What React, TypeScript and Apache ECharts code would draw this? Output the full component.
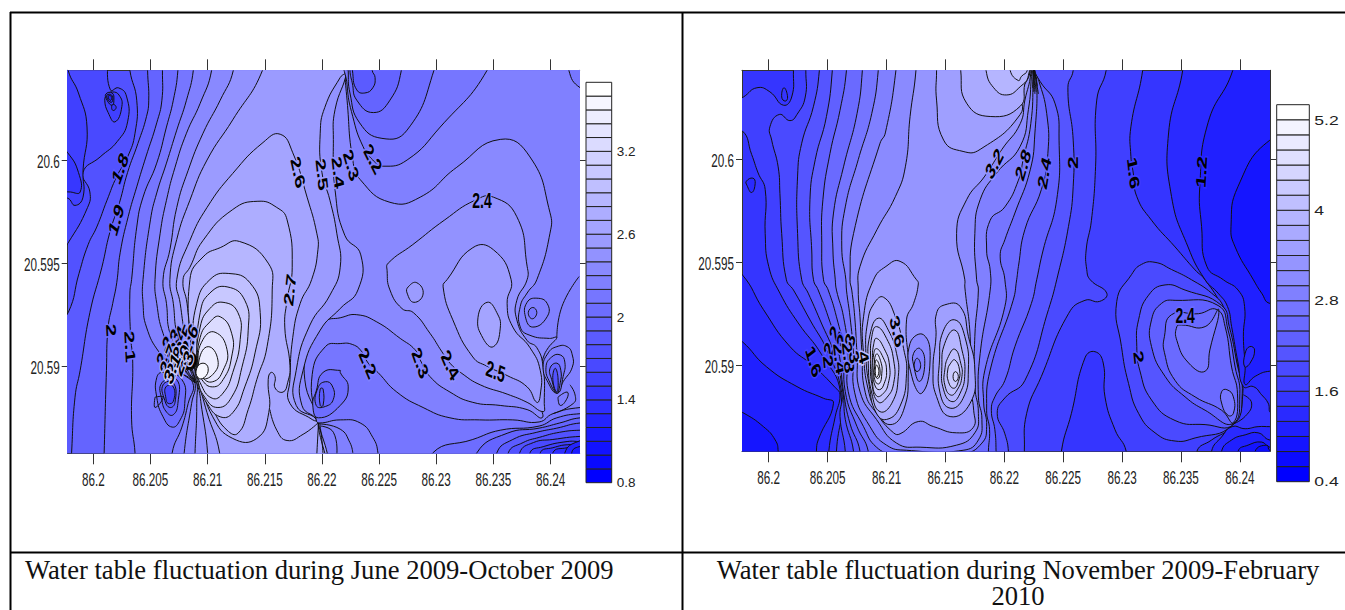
import React, { useEffect, useRef } from "react";
import * as echarts from "echarts";

// Contours traced from the maps. Each entry: [band value of the enclosed area (null = line only, -1 = solid black),
// flat list of offsets from 86.2 E / 20.59 N in thousandths of a degree].
type Contour = [number | null, number[]];
const lonTicks = [86.2, 86.205, 86.21, 86.215, 86.22, 86.225, 86.23, 86.235, 86.24];
const latTicks = [20.59, 20.595, 20.6];
const leftBarLevels = [0.8, 0.9, 1, 1.1, 1.2, 1.3, 1.4, 1.5, 1.6, 1.7, 1.8, 1.9, 2, 2.1, 2.2, 2.3, 2.4, 2.5, 2.6, 2.7, 2.8, 2.9, 3, 3.1, 3.2, 3.3, 3.4, 3.5, 3.6];
const rightBarLevels = [0.4, 0.6, 0.8, 1, 1.2, 1.4, 1.6, 1.8, 2, 2.2, 2.4, 2.6, 2.8, 3, 3.2, 3.4, 3.6, 3.8, 4, 4.2, 4.4, 4.6, 4.8, 5, 5.2];
const leftBarTicks = [0.8, 1.4, 2, 2.6, 3.2];
const rightBarTicks = [0.4, 1.6, 2.8, 4, 5.2];
const captionLeft = "Water table fluctuation during June 2009-October 2009";
const captionRight1 = "Water table fluctuation during November 2009-February";
const captionRight2 = "2010";

const leftContours: Contour[] = [
  [1.8, [3.1,15.5, 3.2,14.35, 3.8,12.9, 3.65,11.3, 3,10.15, 2.05,9.2, 1.2,8.05, .3,6.75, -.45,5.9, -1.25,4.5, -2.2,2.6, -3.5,1.8, -3.5,-5.5, 45,-5.5, 45,15.5]],
  [1.9, [4.75,15.5, 4.75,14.35, 4.85,12.9, 4.65,12.1, 3.9,10.8, 3,9.4, 2.3,7.95, 1.45,6.5, .75,4.8, -.3,2.6, -1.15,-.2, -1.6,-1.5, -1.9,-4.2, -2,-5.5, 45,-5.5, 45,15.5]],
  [2, [6.05,15.5, 6.05,14.35, 6,12.9, 5.55,11.8, 4.6,10.15, 3.8,8.7, 3.05,7.25, 2.35,5.5, 2.05,4.05, 1.7,3.05, 1.3,1.9, 1.15,-.2, .95,-4.2, .9,-5.5, 45,-5.5, 45,15.5]],
  [2.1, [7.4,15.5, 7.4,14.35, 7,12.9, 6.4,11.6, 5.55,9.85, 4.35,8.2, 3.8,6.75, 3.35,4.2, 3.2,3.55, 3.25,1.6, 3.45,.15, 3.35,-2.6, 3.65,-4.2, 3.7,-5.5, 45,-5.5, 45,15.5]],
  [2.2, [8.75,15.5, 8.75,14.35, 8.15,12.9, 7.3,11.45, 6.4,9.85, 5.55,8.4, 5,7.1, 4.35,4.2, 4.35,3.05, 4.65,1.9, 5.8,.65, 7.3,-.2, 8.7,-.8, 8.3,-1.8, 7.75,-2.95, 6.9,-4.2, 6.9,-5.5, 45,-5.5, 45,15.5]],
  [2.3, [10.3,15.5, 10.35,14.35, 9.35,12.75, 8.15,11.3, 7.15,9.65, 6.4,8.05, 5.85,6.45, 5.4,4.2, 5.55,3.05, 6.1,1.6, 7,.65, 8.2,-.3, 8.9,-.8, 8.6,-1.8, 7.95,-4.2, 7.9,-5.5, 19.7,-5.5, 19.65,-2.75, 18.5,-.65, 18.95,1.05, 20.25,2.15, 21.6,2.35, 23.05,2.5, 24.8,2.15, 26.85,1.35, 28.15,.8, 28.6,.3, 29.45,-.5, 31.2,-1.25, 33.2,-1.75, 35.6,-1.9, 37.95,-2.1, 39.25,-2.5, 39.1,-1.8, 39.1,-.2, 39.35,.4, 39.8,.9, 40.55,1.4, 39.9,1.35, 38.2,1.5, 37.35,1.9, 37.35,2.9, 37.95,3.55, 38.8,4.2, 39.95,6.45, 39.95,7.45, 38.2,10.15, 35.6,11, 31.8,9.65, 28.6,8.2, 25.95,7.95, 23.35,9.05, 22.7,10, 22.2,12.9, 22,14.35, 22,15.5]],
  [2.4, [12.25,15.5, 12.25,14.35, 11.1,12.9, 9.6,11.3, 8.3,9.5, 7.3,7.7, 6.7,5.65, 6.1,4.2, 6.4,3.05, 6.7,1.6, 7.6,.65, 8.9,-.5, 9.05,-1.8, 8.9,-4.2, 8.85,-5.5, 19.7,-5.5, 19.65,-2.75, 18.25,-1.9, 18.35,-.2, 19.85,1.75, 21.6,2.8, 23.15,3.7, 23.4,5.4, 22,6.35, 21.15,8.55, 21,11, 21.15,12.45, 22.2,14.35, 22.2,15.5]],
  [2.4, [33.4,8.05, 30.75,7.1, 27.95,5.9, 25.8,5, 25.7,4.65, 25.95,3.7, 27,2.8, 28,2.6, 29.45,1.6, 30.5,.7, 31.2,.15, 32.25,-.35, 33.85,-.9, 36.2,-1.35, 37.95,-1.75, 39.35,-2.2, 39.45,-1.8, 39.35,-.05, 38.8,.9, 37.95,1.25, 37.05,2.25, 37.05,3.2, 37.95,4.2, 37.95,4.85, 37.05,7.25, 35,8.2]],
  [2.5, [14.8,15.5, 14.8,14.35, 12.2,11.95, 9.95,10, 8.45,8.05, 7.3,6.15, 6.7,4.2, 7,3.05, 7.3,1.6, 8,.45, 9.05,-.8, 9.5,-2.1, 10,-4.2, 10,-5.5, 19.7,-5.5, 19.65,-2.75, 17.75,-1.9, 17.75,-.2, 18.95,2, 20.7,3.45, 21.6,4.8, 21.3,6.45, 20.7,8.05, 20,9.4, 19.85,11.3, 20.25,12.55, 21.6,14, 22.2,14.35, 22,15.5]],
  [2.5, [30.95,4.2, 33.2,5.75, 35,5.65, 36.55,4.2, 36.2,3.05, 36.7,1.9, 38.2,.9, 39.1,-.2, 39.1,-1.4, 38.8,-1.75, 37.95,-1, 36.2,-.45, 34.45,0, 33.2,.45, 31.45,2.25, 30.6,3.85]],
  [2.6, [16.35,11.25, 14.85,10.85, 12.2,9.35, 9.95,7.7, 8.45,6.1, 7.3,4.2, 7.6,3.05, 8,1.6, 8.45,.65, 9.15,-.65, 9.95,-2.25, 11.05,-4.2, 11,-5.5, 19.7,-5.5, 19.65,-2.75, 19.2,-2.6, 17.2,-1.8, 17.2,-.65, 17.45,1.4, 18.1,3.05, 19.1,4.2, 19.65,5.65, 19.55,6.45, 18.7,8.2, 17.45,10.35]],
  [2.6, [34.45,3.1, 35.3,2.6, 35.6,1.85, 35,.95, 34.1,1.35, 33.65,2.35]],
  [2.5, [27.55,3.85, 28.3,4.05, 28.85,3.5, 28.05,3.1, 27.45,3.55]],
  [2.7, [14.4,8, 12.2,7.6, 9.6,6.1, 8.45,4.8, 7.85,4.2, 8.2,3.05, 8.45,1.6, 8.7,.45, 9.35,-.65, 10.45,-2.45, 12.2,-3.5, 14.3,-3.5, 15.35,-2.25, 15.3,-.65, 15.55,-.3, 15.9,-.5, 15.9,-1.05, 16.6,-1.25, 17,-.8, 17.2,.05, 16.75,1.9, 16.95,3.2, 17.4,4.8, 16.95,7.1, 16.05,7.7]],
  [null, [15.45,-2.1, 16.05,-3.1, 16.95,-3.6, 18.35,-3.3, 19.65,-2.75]],
  [2.8, [12.8,6.05, 15.3,5, 15.65,3.7, 15.2,.95, 14.3,-.65, 13.55,-2.1, 12.65,-3.25, 11.7,-3.1, 10.45,-2.1, 9.5,-1, 9.05,-.2, 8.65,.65, 8.45,4.2, 9.6,5.3, 11.1,5.75]],
  [2.9, [11.8,4.5, 13.7,4.05, 14.6,2.6, 14.15,.65, 13.25,-1, 12.2,-2.25, 11.1,-2.45, 9.95,-1.8, 9.15,-.8, 8.9,-.05, 8.7,.95, 9.05,3.05, 10.2,4.2]],
  [3, [11.7,3.85, 13.25,3.2, 13.55,1.75, 13,-.05, 12.1,-1.5, 10.9,-2, 9.75,-1.5, 9.15,-.65, 9.05,.3, 9.35,2.6, 10.2,3.55]],
  [3.1, [11.35,3.1, 12.65,2.6, 12.85,1.3, 12.2,-.3, 11.35,-1.3, 10.4,-1.55, 9.35,-.8, 9.05,-.05, 9.35,1.9, 10.2,2.8]],
  [3.2, [11.1,2.4, 12.1,1.6, 12.1,.45, 11.35,-.65, 10.45,-1, 9.5,-.65, 9.15,-.05, 9.35,1.4, 10.2,2.15]],
  [3.3, [10.65,1.65, 11.7,.8, 11.35,-.2, 10.45,-.75, 9.5,-.5, 9.15,.15, 9.6,1.3]],
  [3.4, [10.05,.95, 10.9,.3, 10.45,-.4, 9.5,-.55, 9.25,.3]],
  [3.5, [9.6,.15, 10.05,-.1, 9.7,-.55, 9.15,-.55, 9.05,-.1]],
  [1.6, [.6,15.5, 1.5,13.4, 2.2,13.5, 2.9,13.1, 3,11.85, 2.1,10.9, .6,10.15, -.9,9.4, -.3,8.45, -.5,7.7, -2.24,5.95, -3.5,5, -3.5,15.5]],
  [1.5, [-2.4,15.5, -2.2,14.35, -1.3,13.25, -.55,11.6, -.9,9.5, -.9,8.2, -1.6,7.8, -2.24,8.15, -3.5,8.2, -3.5,15.5]],
  [1.4, [-3.5,11, -2.24,10.35, -1.3,9.4, -1.15,8.45, -2,8.45, -3.5,8.6]],
  [1.5, [1.2,13.15, 1.65,13.3, 2.25,13.15, 2.5,12.6, 1.9,11.85, 1.3,12.3, 1,12.9]],
  [1.4, [1.1,13.2, 1.65,13.25, 1.8,12.9, 1.65,12.65, 1.2,12.9]],
  [1.3, [1.2,13.15, 1.6,13.15, 1.7,12.9, 1.55,12.8, 1.25,12.95]],
  [1.2, [1.3,13.1, 1.55,13.1, 1.6,12.95, 1.45,12.9]],
  [1.4, [1.75,12.7, 2,12.55, 1.75,12.4, 1.6,12.55]],
  [2, [5.55,-.55, 6.1,-.3, 7.75,-.65, 8,-1.8, 7.6,-2.6, 6.9,-2.95, 6.1,-2.45, 5.55,-1.5]],
  [1.9, [6,-.8, 7.3,-.65, 7.4,-1.8, 7,-2.35, 6.45,-2.25, 6,-1.65]],
  [1.8, [6.1,-.9, 7,-.8, 7.15,-1.75, 6.7,-2, 6.25,-1.65]],
  [1.6, [6.35,-1, 7,-1, 7,-1.7, 6.55,-1.8, 6.35,-1.55]],
  [null, [5.4,-1.5, 6.1,-1.5, 5.4,-2, 5.4,-1.5]],
  [-1, [6.7,.45, 8.7,.65, 8.9,-.03, 7.6,-.18, 6.9,-.18]],
  [null, [8.9,-.8, 7.5,.1]], [null, [8.9,-.8, 7.9,.1]], [null, [8.9,-.8, 8.3,.1]], [null, [8.9,-.8, 8.6,.1]], [null, [8.9,-.8, 7.1,-.1]], [null, [8.9,-.8, 8.9,.1]],
  [2.1, [39,-2.7, 36.7,-2.6, 33.8,-2.6, 31.2,-2.5, 28.85,-2, 26.55,-1.25, 24.9,-.3, 24.05,.15, 23.5,.7, 22.7,1.05, 21.6,1.1, 20.3,.95, 19.15,-.4, 19.5,-2.6, 19.75,-2.75, 21.6,-2.6, 23.35,-2.75, 24.45,-3.45, 24.9,-4.2, 25,-5.5, 45,-5.5, 45,-2, 42.6,-2, 40.2,-2.3]],
  [2, [21.6,-.2, 20.1,-.3, 19.5,-1.2, 19.2,-1.9, 19.7,-2.5, 21.6,-1.9, 22.3,-1, 21.6,-.3]],
  [1.9, [19.5,-1.9, 19.65,-1.05, 20.3,-.75, 20.9,-.95, 21,-1.6, 20.3,-1.95]],
  [1.8, [19.85,-1.1, 20.1,-1.1, 20.1,-1.9, 19.85,-1.9]],
  [null, [19.7,-2.75, 19.55,-4.3]], [null, [19.8,-2.75, 20,-3.6, 20.1,-4.3]], [null, [19.9,-2.9, 21,-3.2, 21.3,-4.3]], [null, [19.8,-2.8, 21.6,-3.05, 22.45,-3.7, 22.7,-4.2]],
  [2, [29.7,-5.5, 29.7,-4.2, 33.2,-3.55, 35.6,-3.1, 39,-2.9, 40.55,-2.5, 42.6,-2.3, 45,-2.3, 45,-5.5]],
  [1.9, [33.55,-5.5, 33.55,-4.2, 36.2,-3.25, 39,-3, 40.8,-2.75, 42.6,-2.5, 45,-2.5, 45,-5.5]],
  [1.8, [35.3,-5.5, 35.3,-4.2, 36.7,-3.55, 38.8,-3.2, 40.55,-3, 42.6,-2.75, 45,-2.75, 45,-5.5]],
  [1.7, [36.3,-5.5, 36.3,-4.2, 37.6,-3.7, 39,-3.45, 40.8,-3.2, 42.6,-3.1, 45,-3.1, 45,-5.5]],
  [1.6, [37.3,-5.5, 37.3,-4.2, 38.5,-3.7, 40.2,-3.55, 42.6,-3.4, 45,-3.4, 45,-5.5]],
  [1.5, [38.2,-5.5, 38.2,-4.2, 39.35,-3.9, 41.45,-3.65, 42.6,-3.65, 45,-3.65, 45,-5.5]],
  [1.4, [39.1,-5.5, 39.1,-4.2, 40.2,-3.95, 41.7,-3.8, 42.6,-3.9, 45,-3.9, 45,-5.5]],
  [1.3, [40.2,-5.5, 40.2,-4.2, 41.45,-3.95, 42.15,-3.95, 42.6,-3.9, 45,-3.9, 45,-5.5]],
  [1.2, [41.25,-5.5, 41.25,-4.2, 42.4,-3.65, 45,-3.4, 45,-5.5]],
  [1.1, [41.85,-5.5, 41.85,-4.2, 42.5,-3.9, 45,-3.7, 45,-5.5]],
  [2.1, [34.45,15.5, 34.45,14.35, 30.35,11.6, 27.45,10, 25.35,9.7, 24.45,10, 23.6,10.65, 22.7,12.1, 22.2,13.65, 22.2,15.5]],
  [2, [29.8,15.5, 29.8,14.35, 27.45,11.45, 25.25,11.05, 23.3,11.8, 22.45,13.25, 22.3,14.35, 22.3,15.5]],
  [1.9, [26.95,15.5, 26.95,14.35, 25.95,12.9, 24.5,12.3, 23.05,12.9, 22.65,13.75, 22.45,14.35, 22.45,15.5]],
  [1.8, [24.4,15.5, 24.4,14.35, 24.65,14, 24.45,13.5, 23.75,13.25, 23.05,13.4, 22.7,14.2, 22.7,15.5]],
  [2.1, [41.6,15.5, 41.6,14.35, 42.6,13.5, 45,13, 45,15.5]],
  [null, [42.5,4.35, 41,2.9, 40.55,1.4]],
  [2.2, [37.95,3.1, 38.8,3.3, 39.7,3.05, 39.7,2.4, 38.45,1.9, 37.8,2.4]],
  [2.1, [38.45,2.85, 38.8,2.6, 38.4,2.3, 38.05,2.6]],
  [2.2, [41.45,.95, 41.9,.55, 41.9,-.05, 41.1,-.75, 40.55,-1.3, 39.8,-.8, 39.35,-.05, 39.8,.65, 40.55,.95]],
  [2.1, [40.85,.55, 41.25,.2, 41.1,-.5, 40.65,-1.3, 39.95,-.8, 39.6,-.05, 40.1,.45]],
  [1.9, [40.55,.15, 40.9,-.2, 40.85,-.8, 40.55,-1.3, 40.1,-.65, 39.95,-.1]],
  [1.7, [40.4,-.1, 40.65,-.55, 40.55,-1.25, 40.2,-.65]],
  [null, [40.65,-1.5, 41.45,-1.25, 41.45,-1.55, 40.85,-1.9, 40.65,-1.5]],
  [null, [41.7,-.9, 42.15,-1.4, 42,-1.8, 40.2,-2.3]],
];

const leftLabels: [number, number, string, number][] = [
  [2.35,9.6,"1.8",60], [2,7.1,"1.9",65], [1.55,1.75,"2",-85], [3.2,.95,"2.1",-85], [17.9,9.4,"2.6",-70], [20,9.3,"2.5",-80],
  [21.4,9.4,"2.4",-80], [22.55,9.75,"2.3",-65], [24.45,10.05,"2.2",-50], [34,8.05,"2.4",0], [17.2,3.7,"2.7",80],
  [24,.15,"2.2",-55], [28.6,.15,"2.3",-60], [31.2,.05,"2.4",-55], [35.2,-.25,"2.5",-15],
  [6.25,.7,"2.2",60], [6.9,1.05,"2.3",60], [7.4,1.2,"2.4",60], [7.95,1.25,"2.5",60], [8.45,1.3,"2.6",60],
  [6.55,.3,"2.7",60], [7.15,.2,"2.8",60], [7.75,.3,"2.9",60], [8.3,.4,"3",60], [6.9,-.1,"3.1",60],
];

const rightContours: Contour[] = [
  [1.6, [2.1,15.5, 2.1,14.35, 1.95,13.05, 1.25,12.65, .1,13.3, -1,13.5, -2.15,13.05, -3.5,12.6, -3.5,11.3, -2.25,11.4, -1.45,10.25, -.9,9.35, -.3,8.55, -.3,6.4, 0,4.8, .95,3.5, 2.5,2.05, 4.5,.5, 6.1,-1.35, 5.75,-4.2, 5.7,-5.5, 36.35,-5.5, 36.35,-4.2, 37.6,-3.65, 39.3,-2.95, 40.2,-1.45, 39.6,.1, 38.9,1.87, 38.45,2.85, 37.05,4.15, 36.2,4.63, 34.5,5.75, 32.5,7.05, 31.25,8.2, 30.95,9.35, 30.75,10.15, 30.75,11.6, 31.75,14.35, 31.75,15.5]],
  [1.8, [3.15,15.5, 3.15,14.35, 3.1,13.05, 2.4,12.2, 1.8,11.9, .9,12.2, .1,11.6, .25,10.95, .8,9.65, .95,8.35, 1.1,6.4, 1.5,4.15, 2.1,3.65, 3.5,2.2, 5.05,.6, 6.2,-1.35, 6.05,-2.5, 6.5,-4.2, 6.5,-5.5, 21.7,-5.5, 21.7,-4.2, 21.9,-2.35, 23.15,-.55, 25.45,2.5, 26.85,3.15, 28.1,3.1, 28.7,3.5, 27.3,4.15, 27,4.65, 26.95,5.6, 27.4,7.05, 27.75,9.65, 27.85,12.9, 28.65,14.35, 28.65,15.5]],
  [1.8, [30.8,4.4, 29.55,3.1, 29.95,.9, 30.55,-.9, 31.4,-2.35, 32.8,-3.3, 34.5,-3.7, 36.2,-3.55, 39.3,-2.95, 40.25,-1.4, 39.75,.1, 38.95,1.87, 38.6,2.85, 37.6,3.5, 35.9,4.15, 34.2,4.65, 32.8,5, 31.65,4.9]],
  [2, [4.3,15.5, 4.3,14.35, 3.8,12.6, 2.8,10.8, 2.45,9.2, 2.45,6.4, 2.8,4.15, 3.35,3.5, 4.35,2.2, 5.65,.4, 6.3,-1.35, 6.5,-2.65, 7.2,-4.2, 7.2,-5.5, 20.35,-5.5, 20.35,-4.2, 20.05,-3.35, 19.4,-2.35, 20.05,-1.6, 21.75,-.75, 23.75,2.7, 24.45,4.15, 25.45,6.75, 25.85,8.7, 25.85,10.95, 25.4,13.5, 25.85,14.35, 25.85,15.5]],
  [2, [31.25,.9, 31.4,2.2, 32.25,3.4, 33.65,3.9, 35.35,3.65, 38.45,2.9, 39.1,1.87, 39.75,.1, 40.2,-1.4, 39.45,-2.9, 37.05,-2.9, 34.5,-2.7, 32.5,-1.7, 31.5,-.25]],
  [2.2, [5.4,15.5, 5.4,14.35, 4.9,12.1, 3.95,10, 3.5,8.05, 3.65,5.6, 3.8,4.15, 4.2,3.65, 5.05,2.35, 5.9,.75, 6.35,-1.3, 6.9,-2.85, 7.75,-4.2, 7.75,-5.5, 19.3,-5.5, 19.3,-4.2, 19.2,-3.15, 18.9,-2.2, 19.2,-1.55, 20.05,-.75, 20.9,.9, 22.3,3, 22.75,4.15, 23.3,5.6, 24.45,8.05, 24.65,10.95, 24.3,12.75, 23.05,13.8, 22.6,14.35, 22.6,15.5]],
  [2.2, [32.5,2.2, 33.35,3, 34.5,3.15, 38.15,2.9, 39,1.7, 39.6,-.1, 40,-1.4, 39.4,-2.85, 37.05,-2.2, 35.35,-1.55, 33.65,-.55, 32.5,.9]],
  [2.4, [6.6,15.5, 6.6,14.35, 6.05,12.4, 5.2,10.3, 4.6,8.05, 4.5,5.95, 4.65,4.15, 5.05,3.65, 5.75,2.35, 6.35,.75, 6.5,-1.3, 7.5,-3, 8.45,-4.2, 8.45,-5.5, 18.65,-5.5, 18.65,-4.2, 18.75,-3.15, 18.5,-2.2, 18.8,-.25, 20.75,3.15, 21.05,4.15, 21.2,4.8, 21.75,6.6, 23.15,8.55, 23.7,10.3, 23.6,12.25, 22.9,13.9, 22.55,14.35, 22.55,15.5]],
  [2.4, [33.6,1.4, 34.2,2.45, 36.5,2.5, 38.05,2.7, 38.75,1.87, 39.3,-.1, 39.8,-1.4, 39.45,-2.8, 38.45,-2.2, 36.2,-1.55, 34.5,-.75, 33.6,.6]],
  [2.6, [34.65,1.87, 34.65,1.2, 35.65,.1, 37.05,-.3, 37.45,.73, 38.2,2.7, 37.05,1.87, 35.05,1.95]],
  [2.6, [38.45,-1.3, 38.9,-1.2, 39.45,-1.55, 39.45,-2.35, 39,-2.45, 38.45,-1.85]],
  [2.6, [7.95,15.5, 7.95,14.35, 7.5,12.25, 6.35,9.65, 5.5,7.4, 5.45,5.6, 5.65,4.15, 5.75,3.65, 6.35,2.35, 6.75,.55, 6.75,-1.3, 8.05,-3, 9.15,-4, 10.6,-4.3, 16.5,-4.3, 18.1,-3.8, 18.5,-3, 18.25,-1.85, 18.35,-.25, 20.05,2.85, 20.05,4.15, 19.65,5.3, 20.05,6.1, 20.9,7.4, 22.2,9.5, 22.6,11.3, 22.75,13.9, 22.45,14.35, 22.45,15.5]],
  [2.8, [9.3,15.5, 9.3,14.35, 8.75,12.25, 7.6,10, 6.5,7.7, 6.2,5.75, 6.55,4.15, 6.6,3.65, 6.9,2.35, 7.2,.55, 7.3,-1.35, 8.6,-3, 10,-3.9, 11.7,-4.15, 16.5,-4.15, 17.8,-3.65, 18.1,-2.65, 17.8,-1.55, 17.95,.55, 18.8,3.65, 18.8,4.63, 18.5,5.6, 18.8,7.05, 20.05,7.7, 21.2,9, 21.6,10, 22.25,11.75, 22.45,13.9, 22.4,14.35, 22.4,15.5]],
  [3, [10.8,15.5, 10.8,14.35, 9.9,11.3, 9.45,10.8, 7.2,6.4, 6.9,4.15, 7.05,3.65, 7.3,2.35, 7.5,.55, 7.75,-1.3, 9.15,-2.65, 10.85,-3.8, 12.85,-4, 15.95,-3.9, 17.5,-3.3, 17.8,-2.35, 17.5,-1.05, 17.5,1.4, 17.8,3.65, 17.65,4.15, 17.5,6.4, 17.95,8.05, 19.35,9.35, 21.35,10.65, 22.05,12.45, 22.3,14.05, 22.3,14.35, 22.3,15.5]],
  [3.2, [12.5,15.5, 12.5,14.35, 12,12.1, 11.6,9.65, 10.75,8.2, 9.2,6.6, 7.75,4.8, 7.6,3.65, 7.75,2.35, 7.9,.75, 8.2,-1.35, 9.15,-2.35, 10.6,-3.3, 11.15,-3.35, 12.7,-2.75, 14,-3, 15.95,-3.3, 17.35,-3.05, 17.4,-2.2, 17.1,-.9, 17.1,1.4, 16.65,3.8, 16.65,4.15, 15.95,6.4, 16.8,8.05, 18.35,9.2, 19.8,10.5, 21.35,11.75, 21.75,12.9, 22.25,14.2, 22.25,15.5]],
  [3.4, [14.25,15.5, 14.25,14.35, 14.25,12.9, 14.85,10.95, 16.5,10.4, 17.95,10.5, 21.35,12.2, 21.45,13.25, 22.2,14.3, 22.2,15.5]],
  [3.6, [16.3,15.5, 16.3,14.35, 16.8,12.75, 18.8,12.1, 21.35,12.6, 21.75,13.7, 22.1,14.3, 22.1,15.5]],
  [3.8, [18.45,15.5, 18.45,14.35, 19.1,13.5, 20.2,13.15, 21.35,13.55, 22.05,14.1, 22.05,15.5]],
  [4, [20.5,15.5, 20.5,14.35, 21.2,13.85, 21.45,14.05, 21.95,14.35, 21.95,15.5]],
  [null, [22.5,14.5, 22.7,13.3]], [null, [22.5,14.5, 22.6,13.2]], [null, [22.5,14.5, 22.5,13.3]], [null, [22.5,14.5, 22.4,13.5]], [null, [22.5,14.5, 22.8,13.6]], [null, [22.5,14.5, 22.9,13.2]],
  [3.4, [11.15,5.05, 12.55,4.15, 12.7,3.95, 12.3,3, 11.7,2.2, 11.85,-.25, 11.45,-2.2, 10.3,-2.9, 9.15,-2.2, 8.45,-1.2, 8.05,.55, 8.05,2.35, 8.9,4.15, 9.95,4.8]],
  [3.6, [9.75,3.3, 10.75,2.35, 11.45,.8, 11.7,-.4, 11.15,-2, 10,-2.65, 9.1,-2.3, 8.55,-1.05, 8.25,.55, 8.4,2.1, 8.95,3]],
  [3.8, [9.3,2.28, 10.15,1.7, 10.85,.57, 11,-.56, 10.45,-1.86, 9.45,-2.27, 8.75,-1.37, 8.45,.09, 8.6,1.47]],
  [4, [9.15,1.87, 10,1.3, 10.6,.25, 10.6,-.9, 10,-1.6, 9.3,-1.8, 8.75,-.9, 8.65,.25, 8.75,1.38]],
  [4.2, [9.15,1.3, 9.8,.8, 10.25,0, 10.15,-.9, 9.7,-1.4, 9.15,-1.5, 8.8,-.8, 8.8,.25, 8.9,.98]],
  [4.4, [9.15,.8, 9.7,.38, 10,-.24, 9.8,-.9, 9.4,-1.2, 9,-.97, 8.85,-.24, 8.9,.49]],
  [4.6, [9.15,.54, 9.55,.09, 9.6,-.4, 9.4,-.9, 9.05,-.8, 8.95,-.16]],
  [4.8, [9.15,.25, 9.45,-.24, 9.3,-.65, 9,-.48, 9,-.08]],
  [5, [9.15,0, 9.35,-.32, 9.15,-.6, 9.05,-.32]],
  [3, [12,1.06, 13.15,1.47, 13.7,.25, 13,-1.37, 12.15,-.56]],
  [2.8, [12.3,.57, 12.85,.8, 13.25,.09, 12.8,-.8, 12.3,0]],
  [2.6, [12.6,.33, 12.9,-.04, 12.6,-.32, 12.35,-.04]],
  [3.4, [14.25,2.52, 14.95,2.93, 16.25,2.85, 16.95,1.4, 17.5,-.24, 17.1,-1.86, 15.4,-2.51, 14.25,-1.54, 13.95,-.24, 14.2,1.38]],
  [3.6, [14.8,1.63, 15.8,2.2, 16.65,1.38, 16.95,-.24, 16.5,-1.62, 15.4,-2.1, 14.55,-1.37, 14.5,.25]],
  [3.8, [15.8,1.7, 16.4,.74, 16.65,-.4, 16.25,-1.37, 15.55,-1.78, 14.85,-1.21, 14.7,-.08, 14.95,1.06]],
  [4, [15.8,.77, 16.3,.09, 16.4,-.56, 16,-1.21, 15.45,-1.46, 14.95,-.97, 14.95,-.24, 15.25,.41]],
  [4.2, [15.8,.25, 16.2,-.24, 16.1,-.8, 15.7,-1.13, 15.25,-.8, 15.2,-.24, 15.45,.09]],
  [4.4, [15.85,-.32, 16.1,-.56, 15.85,-.8, 15.65,-.56]],
  [1.2, [-3.5,4.8, -2.25,4.4, -.45,2.7, 1.8,.9, 3.8,-.05, 5.65,-1.1, 6.05,-1.45, 5.65,-2.5, 5.1,-4.2, 5.1,-5.5, -3.5,-5.5]],
  [1, [-3.5,1.6, -2.25,1.14, -.2,-.08, 2.4,-1.05, 4.65,-1.62, 5.5,-1.86, 4.2,-3.65, 4.05,-4.2, 4,-5.5, -3.5,-5.5]],
  [.8, [-3.5,-2, -2.25,-2.3, -.45,-3, .55,-3.65, .8,-4.2, .8,-5.5, -3.5,-5.5]],
  [1.4, [1.1,13.05, 1.3,13.5, 1.6,13.05, 1.4,12.85]],
  [1.2, [-1.9,8.95, -1.35,9.1, -1.15,8.85, -1.45,8.4, -1.85,8.75]],
  [1.2, [35.15,15.5, 35.15,14.35, 33.95,11.3, 34.2,8.2, 35.6,5.75, 37.05,4.15, 38.15,3.5, 38.95,2.85, 39.3,1.87, 39.85,.1, 40.3,-1.05, 41.15,-1.05, 41.85,-1.45, 42.4,-1.85, 42.7,-2.35, 45,-2.5, 45,15.5]],
  [1, [39.4,15.5, 39.4,14.35, 37.3,11.8, 36.6,8.7, 36.75,6.75, 37.2,4.8, 38.6,4.15, 39.85,3.65, 40.4,2.85, 40.3,1.4, 40.45,-.1, 40.45,-.95, 41.3,-.55, 42.55,-.3, 45,-.3, 45,15.5]],
  [.8, [42.55,10.95, 39.85,8.7, 39.25,6.75, 39.6,5.75, 41.15,4.15, 41.85,3.5, 42.55,3, 45,3, 45,11]],
  [1.2, [40.45,.57, 40.85,.9, 41.25,.73, 40.85,.08, 40.4,-.08]],
  [1.4, [24.85,-4.2, 25.7,-2.35, 26.85,.35, 27.7,.65, 28.4,.1, 28.55,-1.55, 29.4,-3.15, 30.35,-4.2, 30.35,-5.5, 24.85,-5.5]],
  [1.2, [37.6,-4.2, 38.45,-3.5, 39.35,-3, 40.45,-3.1, 41.55,-3, 42.55,-3, 45,-3, 45,-5.5, 37.6,-5.5]],
  [1, [38.45,-4.2, 39.3,-3.65, 40.45,-3.4, 41.55,-3.3, 42.55,-3.65, 45,-3.7, 45,-5.5, 38.45,-5.5]],
  [.8, [39.85,-4.2, 40.7,-3.9, 41.85,-3.75, 42.55,-4, 45,-4, 45,-5.5, 39.85,-5.5]],
  [.6, [41.3,-4.2, 42.3,-3.9, 42.55,-4.15, 45,-4.15, 45,-5.5, 41.3,-5.5]],
  [null, [39.3,-2.9, 40.45,-2.5, 41,-1.85, 40.3,-1.45]],
];

const rightLabels: [number, number, string, number][] = [
  [3.8,.17,"1.6",-65], [5.35,1.14,"2.2",60], [6.2,1.14,"2",60], [6.9,1.2,"3",70], [5.05,.17,"2",-80], [6,.33,"2.4",-80], [6.75,.38,"2.8",-80],
  [7.25,.38,"3",-80], [8.05,.38,"4",-75], [10.9,1.63,"3.6",-70], [19.15,9.8,"3.2",50], [21.6,9.75,"2.8",65], [23.4,9.35,"2.4",75],
  [25.85,9.85,"2",90], [30.95,9.35,"1.6",-80], [36.75,9.4,"1.2",85], [35.35,2.44,"2.4",0], [31.4,.38,"2",-80],
];

const leftBand = (v: number) => { const c = Math.round(255 * (v - 0.8) / 2.8); return `rgb(${c},${c},255)`; };
const rightBand = (v: number) => { const c = Math.round(255 * (v - 0.4) / 4.8); return `rgb(${c},${c},255)`; };

function contourSeries(list: Contour[], band: (v: number) => string, xi: number, yi: number) {
  return {
    type: "custom", xAxisIndex: xi, yAxisIndex: yi, clip: true, silent: true,
    data: list.map((_, i) => [86.2, 20.59, i]),
    renderItem: (params: any, api: any) => {
      const [v, flat] = list[params.dataIndex];
      const points: number[][] = [];
      for (let k = 0; k < flat.length; k += 2) points.push(api.coord([86.2 + flat[k] / 1000, 20.59 + flat[k + 1] / 1000]));
      if (v === null) return { type: "polyline", shape: { points, smooth: 0.5 }, style: { fill: "none", stroke: "#111", lineWidth: 1 } };
      return { type: "polygon", shape: { points, smooth: 0.5 }, style: { fill: v < 0 ? "#000" : band(v), stroke: "#111", lineWidth: 1 } };
    },
  };
}

function labelSeries(list: [number, number, string, number][], band: (v: number) => string, xi: number, yi: number) {
  return {
    type: "custom", xAxisIndex: xi, yAxisIndex: yi, silent: true, z: 5,
    data: list.map((r) => [86.2 + r[0] / 1000, 20.59 + r[1] / 1000]),
    renderItem: (params: any, api: any) => {
      const r = list[params.dataIndex];
      const p = api.coord([api.value(0), api.value(1)]);
      return {
        type: "group", x: p[0], y: p[1], scaleX: 0.82, scaleY: 1.35,
        children: [{
          type: "text", rotation: (r[3] * Math.PI) / 180,
          style: { text: r[2], x: 0, y: 0, font: 'bold 17px "Liberation Sans"', fill: "#000", stroke: band(Number(r[2])), lineWidth: 2.5, align: "center", verticalAlign: "middle", textAlign: "center", textVerticalAlign: "middle" },
        }],
      };
    },
  };
}

function textSeries(rows: [number, number, string][], xi: number, yi: number, o: { dx: number; dy: number; align: string; sx: number; sy: number; size: number; color: string }) {
  return {
    type: "custom", xAxisIndex: xi, yAxisIndex: yi, silent: true, z: 6,
    data: rows.map((r) => [r[0], r[1]]),
    renderItem: (params: any, api: any) => {
      const r = rows[params.dataIndex];
      const p = api.coord([r[0], r[1]]);
      return {
        type: "text", x: p[0] + o.dx, y: p[1] + o.dy, scaleX: o.sx, scaleY: o.sy,
        style: { text: r[2], x: 0, y: 0, font: `${o.size}px "Liberation Sans"`, fill: o.color, align: o.align, verticalAlign: "middle", textAlign: o.align, textVerticalAlign: "middle" },
      };
    },
  };
}

function barSeries(levels: number[], step: number, band: (v: number) => string, xi: number, yi: number) {
  return {
    type: "custom", xAxisIndex: xi, yAxisIndex: yi, silent: true,
    data: levels.map((v) => [0, v]),
    renderItem: (_: any, api: any) => {
      const v = api.value(1);
      const a = api.coord([0, v + step]);
      const b = api.coord([1, v]);
      return { type: "rect", shape: { x: a[0], y: a[1], width: b[0] - a[0], height: b[1] - a[1] }, style: { fill: band(v), stroke: "#222", lineWidth: 1 } };
    },
  };
}

const axisStyle = { lineStyle: { color: "#333", width: 1 } };
const lonAxis = (grid: number, position: string, min: number, max: number) => ({
  type: "value", gridIndex: grid, position, min, max, splitLine: { show: false },
  axisLine: { show: true, ...axisStyle }, axisLabel: { show: false },
  axisTick: { show: true, inside: false, length: 11, customValues: lonTicks, ...axisStyle },
});
const latAxis = (grid: number, position: string, min: number, max: number) => ({
  type: "value", gridIndex: grid, position, min, max, splitLine: { show: false },
  axisLine: { show: true, ...axisStyle }, axisLabel: { show: false },
  axisTick: { show: true, inside: false, length: 6, customValues: latTicks, ...axisStyle },
});
const hiddenAxis = (grid: number, min: number, max: number) => ({
  type: "value", gridIndex: grid, min, max, show: false, splitLine: { show: false },
});

const fmt = (v: number) => String(v);

export default function App() {
  const ref = useRef<HTMLDivElement>(null);
  useEffect(() => {
    document.body.style.margin = "0";
    const chart = echarts.init(ref.current!, undefined, { renderer: "svg" });
    const lxMin = 86.19776, lxMax = 86.24255, lyMin = 20.58578, lyMax = 20.60435;
    const rxMin = 86.19773, rxMax = 86.24256, ryMin = 20.5858, ryMax = 20.60435;
    const line = (x1: number, y1: number, x2: number, y2: number) => ({ type: "line", shape: { x1, y1, x2, y2 }, style: { stroke: "#000", lineWidth: 2 }, silent: true });
    const lonText = { dx: 0, dy: 26, align: "center", sx: 0.9, sy: 1.45, size: 13, color: "#222" };
    const latText = { dx: -8, dy: 1, align: "right", sx: 0.9, sy: 1.45, size: 13, color: "#222" };
    const captionFont = '26.6px "Liberation Serif"';
    chart.setOption({
      animation: false,
      backgroundColor: "#fff",
      grid: [
        { left: 67.7, top: 70.3, width: 512, height: 383, show: true, backgroundColor: leftBand(1.7), borderWidth: 0 },
        { left: 742, top: 70.3, width: 528, height: 381, show: true, backgroundColor: rightBand(1.4), borderWidth: 0 },
        { left: 586, top: 82.3, width: 25.7, height: 400.4 },
        { left: 1276.7, top: 104.7, width: 32.6, height: 377 },
      ],
      xAxis: [
        lonAxis(0, "bottom", lxMin, lxMax), lonAxis(0, "top", lxMin, lxMax),
        lonAxis(1, "bottom", rxMin, rxMax), lonAxis(1, "top", rxMin, rxMax),
        hiddenAxis(2, 0, 1), hiddenAxis(3, 0, 1),
      ],
      yAxis: [
        latAxis(0, "left", lyMin, lyMax), latAxis(0, "right", lyMin, lyMax),
        latAxis(1, "left", ryMin, ryMax), latAxis(1, "right", ryMin, ryMax),
        hiddenAxis(2, 0.8, 3.7), hiddenAxis(3, 0.4, 5.4),
      ],
      series: [
        contourSeries(leftContours, leftBand, 0, 0),
        contourSeries(rightContours, rightBand, 2, 2),
        labelSeries(leftLabels, leftBand, 0, 0),
        labelSeries(rightLabels, rightBand, 2, 2),
        barSeries(leftBarLevels, 0.1, leftBand, 4, 4),
        barSeries(rightBarLevels, 0.2, rightBand, 5, 5),
        textSeries(lonTicks.map((v) => [v, lyMin, fmt(v)]), 0, 0, lonText),
        textSeries(lonTicks.map((v) => [v, ryMin, fmt(v)]), 2, 2, lonText),
        textSeries(latTicks.map((v) => [lxMin, v, fmt(v)]), 0, 0, latText),
        textSeries(latTicks.map((v) => [rxMin, v, fmt(v)]), 2, 2, latText),
        textSeries(leftBarTicks.map((v) => [1, v, fmt(v)]), 4, 4, { dx: 5, dy: 0, align: "left", sx: 1, sy: 1, size: 13.5, color: "#222" }),
        textSeries(rightBarTicks.map((v) => [1, v, fmt(v)]), 5, 5, { dx: 5, dy: 0, align: "left", sx: 1.3, sy: 1, size: 13.5, color: "#222" }),
      ],
      graphic: [
        line(10, 12.5, 1345, 12.5), line(10, 552.5, 1345, 552.5), line(10.5, 12, 10.5, 610), line(682.5, 12, 682.5, 610),
        { type: "text", x: 25, y: 570, silent: true, style: { text: captionLeft, font: captionFont, fill: "#111", align: "left", verticalAlign: "middle" } },
        { type: "text", x: 1018, y: 570, silent: true, style: { text: captionRight1, font: captionFont, fill: "#111", align: "center", verticalAlign: "middle" } },
        { type: "text", x: 1018, y: 596, silent: true, style: { text: captionRight2, font: captionFont, fill: "#111", align: "center", verticalAlign: "middle" } },
      ],
    });
    return () => chart.dispose();
  }, []);
  return <div ref={ref} style={{ position: "absolute", left: 0, top: 0, width: 1345, height: 610 }} />;
}
